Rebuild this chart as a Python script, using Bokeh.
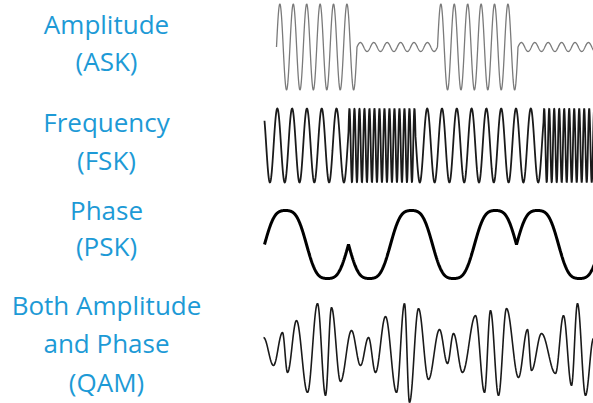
import numpy as np
from bokeh.plotting import figure
from bokeh.models import Range1d
from bokeh.core.properties import value
from bokeh.embed import file_html
from bokeh.resources import INLINE

# ---------------- data ----------------
labels = ["Amplitude", "(ASK)", "Frequency", "(FSK)", "Phase", "(PSK)",
          "Both Amplitude", "and Phase", "(QAM)"]

# ASK: bits, relative carrier amplitude per bit, carrier cycles per symbol
ask_bits = [1, 0, 1, 0]
ask_level = [0.105, 1.0]          # amplitude for bit 0, bit 1
ask_cycles_per_symbol = 6
ask_symbol_len = 80.5             # time units

# FSK: bits, symbol durations (time units), carrier period per bit
fsk_bits = [0, 1, 0, 1]
fsk_symbol_len = [84, 67, 128, 58]
fsk_period = [14.8, 5.0]          # period for bit 0, bit 1
fsk_start_phase = 2.41

# PSK: bits (0 -> phase 0, 1 -> phase 180), one carrier cycle per symbol
psk_bits = [0, 1, 1, 0]
psk_symbol_len = 84

# QAM: extrema of the received waveform (time units, amplitude)
qam_t = [-1, 9, 18, 23, 32, 43, 53, 61, 67, 76, 87, 96, 104, 111, 121, 132,
         140, 145, 154, 164, 175, 183, 189, 198, 211, 220, 226, 234, 242, 254,
         263, 267, 277, 291, 299, 307, 313, 321, 329]
qam_v = [15, -13, 20, -20, 32, -40, 49, -43, 45, -29, 22, -13, 15, -20, 36,
         -40, 49, -50, 44, -27, 23, -11, 19, -20, 37, -40, 42, -43, 44, -25,
         23, -18, 19, -21, 37, -33, 49, -43, 14]

# ---------------- layout / style ----------------
W, H = 593, 403
label_x = 106
label_y = [23, 60, 121, 159, 209, 245, 304, 342, 381]
label_color = "#1d9ad6"

ask_x0, ask_yc, ask_amp = 276, 46.5, 43
fsk_x0, fsk_yc, fsk_amp = 264, 145, 37
psk_x0, psk_yc, psk_amp = 264, 244, 34
qam_x0, qam_yc = 264, 352

p = figure(width=W, height=H, output_backend="svg", toolbar_location=None,
           x_range=Range1d(0, W), y_range=Range1d(H, 0),
           min_border=0, margin=0)
p.axis.visible = False
p.grid.visible = False
p.outline_line_color = None
p.background_fill_color = "white"
p.border_fill_color = "white"

# ASK
ask_t, ask_y = [], []
for i, b in enumerate(ask_bits):
    t = np.linspace(i * ask_symbol_len, (i + 1) * ask_symbol_len, 300)
    s = ask_level[b] * np.sin(2 * np.pi * ask_cycles_per_symbol * t / ask_symbol_len)
    ask_t.append(t)
    ask_y.append(s)
ask_t = np.concatenate(ask_t)
ask_y = np.concatenate(ask_y)
p.line(ask_x0 + ask_t, ask_yc - ask_amp * ask_y, line_color="#7a7a7a", line_width=1.3)

# FSK (continuous phase)
fsk_t, fsk_y = [], []
t0, ph = 0.0, fsk_start_phase
for b, d in zip(fsk_bits, fsk_symbol_len):
    t = np.linspace(0, d, int(d * 8))
    fsk_t.append(t0 + t)
    fsk_y.append(np.sin(ph + 2 * np.pi * t / fsk_period[b]))
    ph += 2 * np.pi * d / fsk_period[b]
    t0 += d
fsk_t = np.concatenate(fsk_t)
fsk_y = np.concatenate(fsk_y)
p.line(fsk_x0 + fsk_t, fsk_yc - fsk_amp * fsk_y, line_color="#1a1a1a", line_width=1.8)

# PSK
psk_t, psk_y = [], []
for i, b in enumerate(psk_bits):
    t = np.linspace(0, psk_symbol_len, 200)
    phi = 2 * np.pi * t / psk_symbol_len + np.pi * b
    s = (np.sin(phi) + 0.09 * np.sin(3 * phi)) / 0.91
    psk_t.append(i * psk_symbol_len + t)
    psk_y.append(s)
psk_t = np.concatenate(psk_t)
psk_y = np.concatenate(psk_y)
p.line(psk_x0 + psk_t, psk_yc - psk_amp * psk_y, line_color="black", line_width=3)

# QAM: half-cosine strokes between successive extrema
qt, qv = [], []
for k in range(len(qam_t) - 1):
    s = np.linspace(0, 1, 20, endpoint=False)
    qt.append(qam_t[k] + (qam_t[k + 1] - qam_t[k]) * s)
    qv.append(qam_v[k] + (qam_v[k + 1] - qam_v[k]) * (1 - np.cos(np.pi * s)) / 2)
qt.append([qam_t[-1]])
qv.append([qam_v[-1]])
qt = np.concatenate(qt)
qv = np.concatenate(qv)
p.line(qam_x0 + qt, qam_yc - qv, line_color="#1a1a1a", line_width=1.6)

# Labels
p.text(x=[label_x] * len(labels), y=label_y, text=labels,
       text_font=value("Open Sans"), text_font_size="26px",
       text_color=label_color, text_align="center", text_baseline="middle")

open("out.html", "w").write(file_html(p, INLINE))
